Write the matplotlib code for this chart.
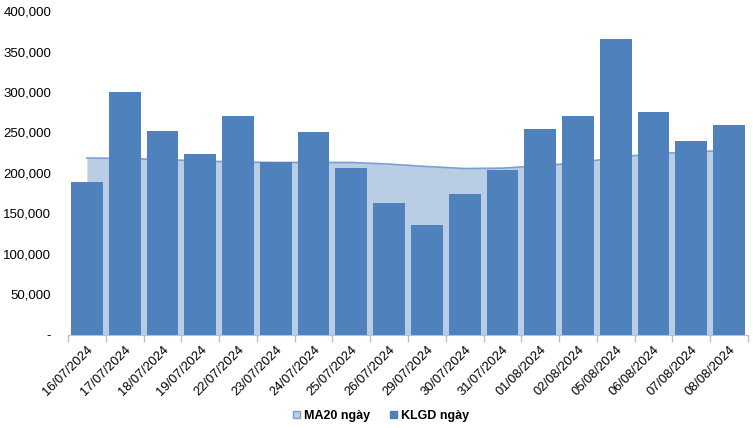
import matplotlib
matplotlib.use("Agg")
import matplotlib.pyplot as plt
from matplotlib.patches import Patch
from matplotlib.ticker import FuncFormatter
import numpy as np

dates = ["16/07/2024", "17/07/2024", "18/07/2024", "19/07/2024", "22/07/2024",
         "23/07/2024", "24/07/2024", "25/07/2024", "26/07/2024", "29/07/2024",
         "30/07/2024", "31/07/2024", "01/08/2024", "02/08/2024", "05/08/2024",
         "06/08/2024", "07/08/2024", "08/08/2024"]
klgd = [189000, 300000, 252000, 223000, 270000, 213000, 250500, 206000, 163000,
        136000, 174000, 204000, 254000, 270000, 365000, 275000, 239500, 259000]
ma20 = [218500, 218000, 216500, 215000, 213500, 213000, 213000, 213000, 211000,
        208000, 205500, 206000, 209000, 212500, 219000, 224000, 225500, 228500]
ma_label = "MA20 ngày"
bar_label = "KLGD ngày"

plt.rcParams['font.family'] = ['Liberation Sans', 'DejaVu Sans']

fig = plt.figure(figsize=(7.53, 4.28), dpi=100)
ax = fig.add_axes([68/753, 1-335/428, 680/753, 324/428])

x = np.arange(len(dates))
ax.fill_between(x, 0, ma20, color="#B9CDE5", zorder=1, linewidth=0)
ax.plot(x, ma20, color="#7C9FCF", lw=1.2, zorder=2)
ax.bar(x, klgd, width=0.84, color="#4F81BD", zorder=3)

ax.set_xlim(-0.5, len(dates) - 0.5)
ax.set_ylim(0, 400000)
ax.set_yticks(np.arange(0, 400001, 50000))
ax.yaxis.set_major_formatter(FuncFormatter(lambda v, p: "-" if v == 0 else f"{int(v):,}"))
ax.tick_params(axis='y', length=0, labelsize=9.5, pad=12, colors="#000000")

ax.set_xticks(x)
ax.set_xticklabels(dates, rotation=45, ha='right', rotation_mode='anchor', fontsize=9.3)
ax.set_xticks(np.arange(-0.5, len(dates), 1), minor=True)
ax.tick_params(axis='x', which='major', length=0, pad=6)
ax.tick_params(axis='x', which='minor', length=5, color="#BFBFBF", width=1)

for s in ['top', 'right', 'left']:
    ax.spines[s].set_visible(False)
ax.spines['bottom'].set_color("#BFBFBF")
ax.spines['bottom'].set_zorder(4)

handles = [Patch(facecolor="#B9CDE5", edgecolor="#7C9FCF", label=ma_label),
           Patch(facecolor="#4F81BD", edgecolor="#4F81BD", label=bar_label)]
fig.legend(handles=handles, loc='center', bbox_to_anchor=(381/753, 1-416/428), ncol=2,
           frameon=False, prop={'weight': 'bold', 'size': 9}, handlelength=0.55,
           handleheight=0.55, handletextpad=0.3, columnspacing=1.6)

fig.savefig("out.png", dpi=100)
